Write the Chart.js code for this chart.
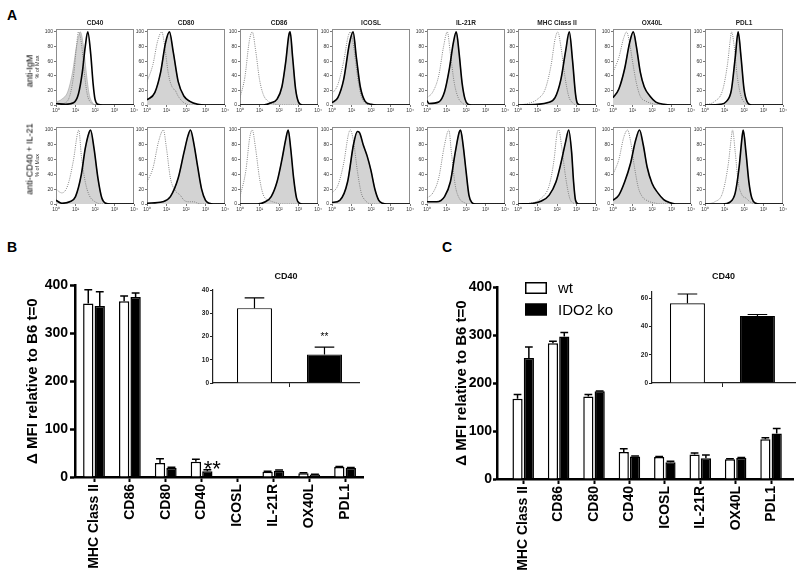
<!DOCTYPE html>
<html>
<head>
<meta charset="utf-8">
<script src="https://cdn.jsdelivr.net/npm/chart.js@4.4.1/dist/chart.umd.min.js"></script>
<style>
  body { margin: 0; background: #fff; width: 800px; height: 582px; position: relative; overflow: hidden; }
  canvas { position: absolute; }
  .lbl { position: absolute; white-space: nowrap; line-height: 1; font-family: "Liberation Sans", Arial, sans-serif; color: #000; }
  .rot { transform: translate(-50%, -50%) rotate(-90deg); font-size: 9px; color: #000; will-change: transform; -webkit-font-smoothing: antialiased; }
</style>
</head>
<body>
<div class="lbl" style="left:7px;top:7.5px;font-size:14px;font-weight:bold">A</div>
<div class="lbl" style="left:7px;top:240px;font-size:14px;font-weight:bold">B</div>
<div class="lbl" style="left:442px;top:240px;font-size:14px;font-weight:bold">C</div>
<div class="lbl rot" style="left:30px;top:71px">anti-IgM</div>
<div class="lbl rot" style="left:30px;top:159px">anti-CD40 + IL-21</div>
<script>
// Panel A: flow histograms, points are [log10 fluorescence, % of max]
const markers = ['CD40', 'CD80', 'CD86', 'ICOSL', 'IL-21R', 'MHC Class II', 'OX40L', 'PDL1'];
const decadeLabels = ['10⁰', '10¹', '10²', '10³', '10⁴'];
const pctTicks = [0, 20, 40, 60, 80, 100];

const igmIsotype = [
  [[0,0],[0.4,2],[0.7,12],[0.9,40],[1.05,80],[1.15,100],[1.3,85],[1.45,45],[1.6,15],[1.8,3],[2.1,0],[4,0]],
  [[0,32],[0.3,55],[0.55,88],[0.76,100],[0.9,82],[1.1,42],[1.3,24],[1.45,20],[1.6,12],[1.9,3],[2.3,0],[4,0]],
  [[0,10],[0.25,38],[0.48,88],[0.63,100],[0.8,75],[1.0,35],[1.2,14],[1.45,5],[1.8,1],[2.1,0],[4,0]],
  [[0,15],[0.3,28],[0.6,60],[0.82,93],[0.94,100],[1.1,82],[1.3,40],[1.5,12],[1.7,3],[2.0,0],[4,0]],
  [[0,10],[0.3,18],[0.6,40],[0.85,80],[1.04,100],[1.2,70],[1.4,30],[1.6,10],[1.8,3],[2.0,0],[4,0]],
  [[0,0],[0.5,2],[1.0,8],[1.4,22],[1.7,55],[1.9,90],[2.04,100],[2.2,80],[2.4,40],[2.6,12],[2.8,3],[3.0,0],[4,0]],
  [[0,45],[0.3,65],[0.55,92],[0.7,100],[0.85,85],[1.0,60],[1.2,30],[1.4,12],[1.7,5],[2.0,2],[2.4,0],[4,0]],
  [[0,0],[0.5,5],[0.9,20],[1.15,55],[1.3,90],[1.36,100],[1.5,80],[1.65,40],[1.85,12],[2.05,3],[2.3,0],[4,0]]
];
const igmStain = [
  [[0,2],[0.5,1],[0.9,3],[1.15,15],[1.35,45],[1.5,80],[1.63,100],[1.78,70],[1.9,30],[2.0,8],[2.15,1],[2.4,0],[4,0]],
  [[0,7],[0.4,17],[0.7,45],[0.95,85],[1.15,100],[1.35,72],[1.6,32],[1.9,12],[2.2,5],[2.6,1],[3.0,0],[4,0]],
  [[0,0],[1.2,0],[1.6,3],[1.9,8],[2.15,25],[2.35,60],[2.5,95],[2.57,100],[2.7,65],[2.85,22],[3.0,4],[3.2,0],[4,0]],
  [[0,3],[0.3,10],[0.6,35],[0.9,85],[1.08,100],[1.25,65],[1.45,25],[1.7,5],[2.0,1],[2.3,0],[4,0]],
  [[0,6],[0.1,2],[0.6,4],[0.9,18],[1.15,50],[1.35,85],[1.5,100],[1.65,70],[1.8,30],[1.95,8],[2.1,1],[2.3,0],[4,0]],
  [[0,0],[1.0,1],[1.5,3],[1.9,10],[2.2,35],[2.45,75],[2.63,100],[2.8,60],[2.95,15],[3.05,2],[3.2,0],[4,0]],
  [[0,10],[0.3,22],[0.6,50],[0.85,85],[1.04,100],[1.2,80],[1.4,45],[1.6,25],[1.9,12],[2.2,4],[2.6,1],[3.0,0],[4,0]],
  [[0,0],[0.8,1],[1.1,5],[1.35,20],[1.55,65],[1.7,100],[1.85,65],[2.0,22],[2.15,5],[2.4,0],[4,0]]
];
const igmCd40Shaded = [[0,4],[0.3,8],[0.6,18],[0.85,45],[1.05,80],[1.25,100],[1.4,82],[1.55,45],[1.7,15],[1.85,4],[2.05,0],[4,0]];
const igmShaded = [igmCd40Shaded, ...igmStain.slice(1)];

const cd40Isotype = [
  [[0,20],[0.3,15],[0.6,25],[0.9,60],[1.1,95],[1.17,100],[1.3,65],[1.5,30],[1.7,12],[2.0,3],[2.4,0],[4,0]],
  [[0,30],[0.3,48],[0.6,85],[0.84,100],[1.0,75],[1.2,35],[1.45,18],[1.7,12],[1.9,5],[2.2,3],[2.4,3],[2.6,1],[2.9,0],[4,0]],
  [[0,10],[0.3,45],[0.5,90],[0.63,100],[0.8,75],[1.0,35],[1.2,12],[1.5,5],[1.8,2],[2.1,0],[4,0]],
  [[0,15],[0.3,25],[0.6,55],[0.85,95],[0.94,100],[1.1,85],[1.3,45],[1.5,15],[1.7,5],[2.0,0],[4,0]],
  [[0,8],[0.3,15],[0.6,35],[0.9,80],[1.12,100],[1.25,70],[1.45,25],[1.65,8],[1.9,2],[2.2,0],[4,0]],
  [[0,0],[0.8,2],[1.2,8],[1.6,25],[1.85,60],[2.0,95],[2.09,100],[2.25,75],[2.45,35],[2.65,8],[2.85,1],[3.0,0],[4,0]],
  [[0,40],[0.3,60],[0.55,90],[0.75,100],[0.9,85],[1.1,50],[1.3,22],[1.5,10],[1.8,4],[2.2,1],[2.6,0],[4,0]],
  [[0,0],[0.5,3],[0.9,15],[1.2,55],[1.35,90],[1.41,100],[1.55,70],[1.7,30],[1.9,12],[2.1,8],[2.3,3],[2.6,0],[4,0]]
];
const cd40Stain = [
  [[0,5],[0.3,1],[0.7,3],[1.0,10],[1.3,40],[1.5,75],[1.7,97],[1.77,100],[1.95,75],[2.15,35],[2.35,8],[2.55,1],[2.8,0],[4,0]],
  [[0,1],[0.8,3],[1.2,10],[1.6,35],[1.9,70],[2.1,92],[2.23,100],[2.4,82],[2.6,50],[2.8,20],[3.0,5],[3.2,1],[3.4,0],[4,0]],
  [[0,0],[0.9,0],[1.3,3],[1.6,10],[1.9,30],[2.15,60],[2.35,88],[2.47,100],[2.6,75],[2.75,35],[2.9,8],[3.05,1],[3.2,0],[4,0]],
  [[0,2],[0.4,5],[0.8,30],[1.1,80],[1.3,98],[1.4,97],[1.6,80],[1.8,65],[2.0,45],[2.2,20],[2.4,5],[2.6,1],[2.8,0],[4,0]],
  [[0,3],[0.5,3],[0.9,10],[1.2,30],[1.45,70],[1.65,97],[1.72,100],[1.85,80],[2.0,45],[2.15,12],[2.3,2],[2.5,0],[4,0]],
  [[0,0],[0.8,1],[1.2,4],[1.6,12],[1.95,30],[2.2,55],[2.45,85],[2.6,100],[2.75,70],[2.85,30],[2.95,5],[3.1,0],[4,0]],
  [[0,5],[0.3,12],[0.6,30],[0.9,55],[1.15,85],[1.36,100],[1.55,80],[1.75,50],[2.0,28],[2.3,15],[2.6,6],[2.9,2],[3.2,0],[4,0]],
  [[0,0],[0.9,0],[1.3,3],[1.55,15],[1.75,50],[1.9,90],[1.96,100],[2.1,70],[2.25,30],[2.4,8],[2.6,1],[2.8,0],[4,0]]
];
const cd40Shaded = cd40Stain;

// Panels B and C: delta MFI relative to B6 t=0
const barLabels = ['MHC Class II', 'CD86', 'CD80', 'CD40', 'ICOSL', 'IL-21R', 'OX40L', 'PDL1'];
const mfiTicks = [0, 100, 200, 300, 400];
const bWt = [362, 367, 29, 32, 1.5, 11, 8, 21];
const bWtErr = [29, 11, 9, 5, 0, 1, 1, 1];
const bKo = [357, 376, 19, 12, 1, 13, 5, 19];
const bKoErr = [30, 8, 1.5, 3, 0, 1.5, 0.5, 1];
const cWt = [167, 283, 172, 56, 46, 51, 41, 83];
const cWtErr = [9, 4, 4, 7, 1, 3, 1, 3];
const cKo = [252, 297, 183, 47, 35, 43, 44, 95];
const cKoErr = [23, 8, 0.5, 1, 2, 7, 1, 10];

// CD40 insets
const bInsetWt = [32.2], bInsetWtErr = [4.4], bInsetKo = [12.3], bInsetKoErr = [3.1];
const bInsetTicks = [0, 10, 20, 30, 40];
const cInsetWt = [56.5], cInsetWtErr = [6.5], cInsetKo = [47.5], cInsetKoErr = [1];
const cInsetTicks = [0, 20, 40, 60];

Chart.defaults.animation = false;
Chart.defaults.responsive = false;
Chart.defaults.events = [];
Chart.defaults.font.family = '"Liberation Sans", Arial, sans-serif';
Chart.defaults.plugins.legend.display = false;
Chart.defaults.plugins.tooltip.enabled = false;

const frame = {
  id: 'frame',
  beforeDatasetsDraw(chart, args, o) {
    const { ctx, chartArea: a } = chart;
    ctx.save();
    ctx.strokeStyle = o.color || '#888';
    ctx.lineWidth = 1;
    ctx.strokeRect(a.left + 0.5, a.top + 0.5, a.width - 1, a.height - 1);
    ctx.restore();
  }
};

const errorBars = {
  id: 'errorBars',
  afterDatasetsDraw(chart, args, o) {
    const { ctx } = chart;
    const y = chart.scales.y;
    ctx.save();
    ctx.strokeStyle = '#000';
    ctx.lineWidth = o.lineWidth || 1.5;
    chart.data.datasets.forEach((ds, di) => {
      if (!ds.errors) return;
      chart.getDatasetMeta(di).data.forEach((bar, i) => {
        const e = ds.errors[i];
        if (!e) return;
        const top = y.getPixelForValue(ds.data[i].y + e);
        const half = bar.width * (o.cap || 0.35);
        ctx.beginPath();
        ctx.moveTo(bar.x, bar.y);
        ctx.lineTo(bar.x, top);
        ctx.moveTo(bar.x - half, top);
        ctx.lineTo(bar.x + half, top);
        ctx.stroke();
      });
    });
    ctx.restore();
  }
};

const stars = {
  id: 'stars',
  afterDatasetsDraw(chart, args, o) {
    if (!o.items) return;
    const { ctx } = chart;
    const y = chart.scales.y;
    ctx.save();
    ctx.fillStyle = '#000';
    ctx.textAlign = 'center';
    ctx.textBaseline = 'alphabetic';
    o.items.forEach(it => {
      const ds = chart.data.datasets[it.dataset];
      const el = chart.getDatasetMeta(it.dataset).data[it.index];
      const v = ds.data[it.index].y + (ds.errors ? ds.errors[it.index] : 0);
      ctx.font = it.font;
      ctx.fillText(it.text, el.x + it.dx, y.getPixelForValue(v) + it.dy);
    });
    ctx.restore();
  }
};

const boxLegend = {
  id: 'boxLegend',
  afterDraw(chart, args, o) {
    if (!o.show) return;
    const { ctx, chartArea: a } = chart;
    ctx.save();
    ctx.font = '15px "Liberation Sans", Arial, sans-serif';
    ctx.textBaseline = 'middle';
    chart.data.datasets.forEach((ds, k) => {
      const x = a.left + o.dx, y = a.top + o.dy + k * o.gap;
      ctx.fillStyle = ds.backgroundColor;
      ctx.fillRect(x, y, o.w, o.h);
      ctx.strokeStyle = '#000';
      ctx.lineWidth = 1.5;
      ctx.strokeRect(x + 0.75, y + 0.75, o.w - 1.5, o.h - 1.5);
      ctx.fillStyle = '#000';
      ctx.fillText(ds.label, x + o.w + 11, y + o.h / 2 + 1);
    });
    ctx.restore();
  }
};

function addCanvas(left, top, w, h) {
  const c = document.createElement('canvas');
  c.width = w; c.height = h;
  c.style.left = left + 'px'; c.style.top = top + 'px';
  c.style.width = w + 'px'; c.style.height = h + 'px';
  document.body.appendChild(c);
  return c;
}

const pts = arr => arr.map(([x, y]) => ({ x, y }));

// histogram layout
const panelLeft = [56, 147, 240, 332, 427, 518, 613, 705];

function makeHist(row, i) {
  const first = i === 0, top = row === 0;
  const yw = first ? 22 : 14;
  const boxW = 78;
  const canvasTop = top ? 14 : 121;
  const areaBottom = top ? 105 : 204;
  const c = addCanvas(panelLeft[i] - yw, canvasTop, yw + boxW + 6, areaBottom + 10 - canvasTop);
  const iso = top ? igmIsotype[i] : cd40Isotype[i];
  const stain = top ? igmStain[i] : cd40Stain[i];
  const shaded = top ? igmShaded[i] : cd40Shaded[i];
  const tickFont = { size: 5 };
  new Chart(c, {
    type: 'line',
    data: {
      datasets: [
        { data: pts(stain), borderColor: '#000', borderWidth: 1.6, fill: false },
        { data: pts(iso), borderColor: '#777', borderWidth: 0.9, borderDash: [1, 1.2], fill: false },
        { data: pts(shaded), borderColor: '#a0a0a0', borderWidth: 0.6, backgroundColor: '#d3d3d3', fill: 'origin' }
      ]
    },
    plugins: [frame],
    options: {
      layout: { padding: { top: top ? 0 : 6, right: 6, left: 0, bottom: 0 } },
      elements: { point: { radius: 0 }, line: { cubicInterpolationMode: 'monotone' } },
      plugins: {
        title: { display: top, text: markers[i], fullSize: false, color: '#222', font: { size: 6.5, weight: 'bold' }, padding: { top: 5.1, bottom: 2.1 } },
        frame: { color: '#8c8c8c' }
      },
      scales: {
        x: {
          type: 'linear', min: 0, max: 4,
          afterBuildTicks: s => { s.ticks = decadeLabels.map((_, k) => ({ value: k })); },
          ticks: { callback: v => decadeLabels[v], font: tickFont, color: '#333', padding: 1, maxRotation: 0, autoSkip: false },
          grid: { drawOnChartArea: false, tickLength: 2, color: '#777' },
          border: { display: false },
          afterFit: s => { s.height = 10; }
        },
        y: {
          min: 0, max: 104,
          afterBuildTicks: s => { s.ticks = pctTicks.map(v => ({ value: v })); },
          ticks: { font: tickFont, color: '#333', padding: 1 },
          grid: { drawOnChartArea: false, tickLength: 2, color: '#777' },
          border: { display: false },
          title: { display: first, text: '% of Max', color: '#333', font: { size: 5.5 }, padding: 0 },
          afterFit: s => { s.width = yw; }
        }
      }
    }
  });
}

for (let r = 0; r < 2; r++) {
  for (let i = 0; i < markers.length; i++) makeHist(r, i);
}

function mainBars(c, wt, wtErr, ko, koErr, o) {
  const style = { categoryPercentage: 0.64, barPercentage: 0.9, borderColor: '#000', borderWidth: 1.5 };
  return new Chart(c, {
    type: 'bar',
    data: {
      datasets: [
        { label: 'wt', data: wt.map((v, i) => ({ x: i, y: v })), errors: wtErr, backgroundColor: '#fff', ...style },
        { label: 'IDO2 ko', data: ko.map((v, i) => ({ x: i, y: v })), errors: koErr, backgroundColor: '#000', ...style }
      ]
    },
    plugins: [errorBars, stars, boxLegend],
    options: {
      layout: { padding: { top: 10, right: 6, left: 0, bottom: 0 } },
      plugins: {
        errorBars: { lineWidth: 1.5, cap: 0.38 },
        stars: { items: o.stars },
        boxLegend: o.legend
      },
      scales: {
        x: {
          type: 'linear', min: o.xMin, max: o.xMax, offset: false,
          afterBuildTicks: s => { s.ticks = barLabels.map((_, i) => ({ value: i })); },
          ticks: { autoSkip: false, minRotation: 90, maxRotation: 90, callback: v => barLabels[v], font: { size: 14, weight: 'bold' }, color: '#000', padding: 2 },
          grid: { offset: false, drawOnChartArea: false, tickLength: 5, tickWidth: 2, tickColor: '#000' },
          border: { color: '#000', width: 2.5 },
          afterFit: s => { s.height = o.xh; }
        },
        y: {
          min: 0, max: 400,
          afterBuildTicks: s => { s.ticks = mfiTicks.map(v => ({ value: v })); },
          ticks: { font: { size: 14, weight: 'bold' }, color: '#000', padding: o.tickPad },
          grid: { drawOnChartArea: false, tickLength: o.tickLen, tickWidth: 2.5, tickColor: '#000' },
          border: { color: '#000', width: 2.5 },
          title: { display: true, text: 'Δ MFI relative to B6 t=0', color: '#000', font: { size: 15, weight: 'bold' }, padding: 0 },
          afterFit: s => { s.width = o.yw; }
        }
      }
    }
  });
}

function insetBars(c, wt, wtErr, ko, koErr, o) {
  const style = { categoryPercentage: o.cp, barPercentage: 0.5, borderColor: '#000', borderWidth: 1.2 };
  return new Chart(c, {
    type: 'bar',
    data: {
      datasets: [
        { label: 'wt', data: wt.map(v => ({ x: 0, y: v })), errors: wtErr, backgroundColor: '#fff', ...style },
        { label: 'IDO2 ko', data: ko.map(v => ({ x: 0, y: v })), errors: koErr, backgroundColor: '#000', ...style }
      ]
    },
    plugins: [errorBars, stars],
    options: {
      layout: { padding: { top: 0, right: 6, left: 0, bottom: 0 } },
      plugins: {
        title: { display: true, text: 'CD40', fullSize: false, color: '#111', font: { size: 9, weight: 'bold' }, padding: { top: 5.6, bottom: o.titleGap } },
        errorBars: { lineWidth: 1.2, cap: 0.28 },
        stars: { items: o.stars }
      },
      scales: {
        x: {
          type: 'linear', min: o.xMin, max: o.xMax, offset: false,
          afterBuildTicks: s => { s.ticks = [{ value: 0 }]; },
          ticks: { callback: () => '' },
          grid: { offset: false, drawOnChartArea: false, tickLength: 4, tickWidth: 1, tickColor: '#222' },
          border: { color: '#222', width: 1.2 },
          afterFit: s => { s.height = 6; }
        },
        y: {
          min: 0, max: o.yMax,
          afterBuildTicks: s => { s.ticks = o.ticks.map(v => ({ value: v })); },
          ticks: { font: { size: 6.5, weight: 'bold' }, color: '#222', padding: 1 },
          grid: { drawOnChartArea: false, tickLength: 3, tickWidth: 1, tickColor: '#222' },
          border: { color: '#222', width: 1.2 },
          afterFit: s => { s.width = 16; }
        }
      }
    }
  });
}

mainBars(addCanvas(24, 275, 345, 307), bWt, bWtErr, bKo, bKoErr, {
  xMin: -0.53, xMax: 7.5, xh: 105, yw: 51, tickLen: 5, tickPad: 2,
  stars: [{ dataset: 1, index: 3, text: '**', font: '22px "Liberation Sans", Arial', dx: 5, dy: 6 }],
  legend: { show: false }
});
mainBars(addCanvas(453, 277, 346, 305), cWt, cWtErr, cKo, cKoErr, {
  xMin: -0.74, xMax: 7.62, xh: 103, yw: 44, tickLen: 4, tickPad: 1,
  stars: [],
  legend: { show: true, dx: 28, dy: -5, w: 22, h: 12, gap: 21.5 }
});
insetBars(addCanvas(197, 266, 168, 123), bInsetWt, bInsetWtErr, bInsetKo, bInsetKoErr, {
  xMin: -1.1, xMax: 1.0, cp: 0.959, yMax: 40, ticks: bInsetTicks, titleGap: 7.6,
  stars: [{ dataset: 1, index: 0, text: '**', font: '10px "Liberation Sans", Arial', dx: 0, dy: -6.7 }]
});
insetBars(addCanvas(636, 266, 165, 123), cInsetWt, cInsetWtErr, cInsetKo, cInsetKoErr, {
  xMin: -1.0, xMax: 1.03, cp: 0.979, yMax: 65, ticks: cInsetTicks, titleGap: 8.8,
  stars: []
});
</script>
</body>
</html>
